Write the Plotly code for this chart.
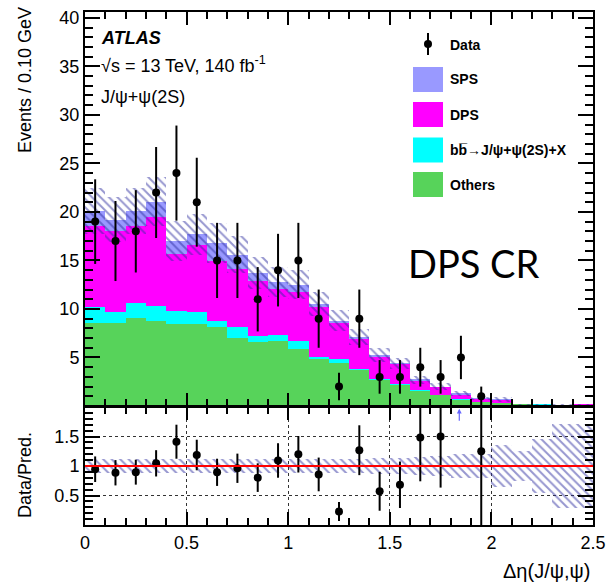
import numpy as np
import plotly.graph_objects as go

# ---------------- data ----------------
bin_lo = [round(0.1 * i, 2) for i in range(25)]
bin_width = 0.1
data = [19, 17, 18, 22, 24, 21, 15, 15, 11, 14, 15, 9, 2, 9, 3, 3, 4, 3, 5, 1, 0, 0, 0, 0, 0]
others = [8.6, 8.6, 9.1, 8.8, 8.45, 8.4, 8.1, 7.0, 6.55, 6.7, 5.86, 4.93, 4.48, 3.72, 2.76,
          2.17, 1.58, 1.14, 0.69, 0.45, 0.34, 0.2, 0.0, 0.0, 0.0]
bbbar = [1.6, 1.1, 1.5, 1.5, 1.35, 1.3, 0.7, 1.1, 0.7, 0.6, 0.8, 0.17, 0.35, 0.08, 0.04,
         0.1, 0.02, 0.01, 0.01, 0.0, 0.0, 0.0, 0.15, 0.1, 0.0]
dps = [8.4, 8.3, 7.9, 9.2, 5.9, 6.9, 6.1, 6.0, 5.6, 4.77, 5.05, 5.1, 3.72, 3.2, 2.35,
       2.08, 1.05, 0.85, 0.5, 0.33, 0.36, 0.0, 0.0, 0.0, 0.15]
sps = [1.5, 1.2, 1.6, 1.55, 1.3, 1.1, 1.9, 1.5, 0.85, 0.73, 0.8, 0.3, 0.25, 0.1, 0.1,
       0.05, 0.05, 0.0, 0.05, 0.02, 0.02, 0.0, 0.0, 0.0, 0.0]
rel_unc = [0.12, 0.12, 0.12, 0.12, 0.12, 0.12, 0.12, 0.12, 0.12, 0.12, 0.12, 0.12, 0.12,
           0.12, 0.13, 0.13, 0.15, 0.17, 0.2, 0.2, 0.36, 0.25, 0.45, 0.72, 0.72]

x_ticks = [0, 0.5, 1, 1.5, 2, 2.5]
y_ticks_top = [5, 10, 15, 20, 25, 30, 35, 40]
y_ticks_ratio = [0.5, 1, 1.5]

# ---------------- derived ----------------
xc = np.array(bin_lo) + bin_width / 2
o = np.array(others); b = np.array(bbbar); d = np.array(dps); s = np.array(sps)
total = o + b + d + s
unc = np.array(rel_unc)
dat = np.array(data, dtype=float)
has = dat > 0
ratio = np.where(has, dat / np.where(total > 0, total, 1), np.nan)
rerr = np.where(has, np.sqrt(dat) / np.where(total > 0, total, 1), np.nan)

FONT = "Liberation Sans, Arial, sans-serif"
C_SPS = "#9999ff"; C_DPS = "#ff00ff"; C_BB = "#00ffff"; C_OTH = "#57d35a"
HATCH = "rgb(45,45,160)"

fig = go.Figure()

bases = [np.zeros(25), o, o + b, o + b + d]
for vals, base, col in [(o, bases[0], C_OTH), (b, bases[1], C_BB), (d, bases[2], C_DPS), (s, bases[3], C_SPS)]:
    fig.add_trace(go.Bar(x=xc, y=vals, base=base, width=bin_width, marker=dict(color=col, line=dict(width=0)),
                         xaxis="x", yaxis="y", showlegend=False, hoverinfo="skip"))

hatch_pat = dict(shape="\\", fgcolor=HATCH, bgcolor="rgba(0,0,0,0)", size=6, solidity=0.33, fillmode="overlay")

fig.add_trace(go.Bar(x=xc, y=2 * unc * total, base=total * (1 - unc), width=bin_width,
                     marker=dict(color="rgba(0,0,0,0)", line=dict(width=0), pattern=hatch_pat),
                     xaxis="x", yaxis="y", showlegend=False, hoverinfo="skip"))

fig.add_trace(go.Scatter(x=xc[has], y=dat[has], mode="markers",
                         marker=dict(color="black", size=8),
                         error_y=dict(type="data", array=np.sqrt(dat[has]), color="black", thickness=2, width=0),
                         xaxis="x", yaxis="y", showlegend=False))

fig.add_trace(go.Bar(x=xc, y=2 * unc, base=1 - unc, width=bin_width,
                     marker=dict(color="rgba(0,0,0,0)", line=dict(width=0), pattern=hatch_pat),
                     xaxis="x2", yaxis="y2", showlegend=False, hoverinfo="skip"))

inrange = has & (ratio <= 2)
fig.add_trace(go.Scatter(x=xc[inrange], y=ratio[inrange], mode="markers",
                         marker=dict(color="black", size=8),
                         error_y=dict(type="data", array=rerr[inrange], color="black", thickness=2, width=0),
                         xaxis="x2", yaxis="y2", showlegend=False, cliponaxis=True))

# ---------------- layout ----------------
L, R, T, B = 85, 16, 12, 62
W, H = 609, 587
PH = H - T - B
PW = W - L - R
top_dom = [(525 - 406) / PH, 1.0]
bot_dom = [0.0, (525 - 407) / PH]

def P(px, py):
    return (px - L) / PW, (H - B - py) / PH

axis_common = dict(showline=True, linecolor="black", linewidth=2, mirror="allticks",
                   ticks="inside", tickcolor="black", tickwidth=1.5, zeroline=False, automargin=False,
                   tickfont=dict(family=FONT, size=18, color="black"))

fig.update_layout(
    width=W, height=H, margin=dict(l=L, r=R, t=T, b=B, autoexpand=False),
    paper_bgcolor="white", plot_bgcolor="white", barmode="overlay", bargap=0,
    showlegend=False,
    xaxis=dict(domain=[0, 1], range=[0, 2.5], anchor="y", matches="x2", showticklabels=False,
               tickvals=x_ticks, ticklen=13, showgrid=False,
               minor=dict(ticks="inside", dtick=0.1, tick0=0, ticklen=7, tickcolor="black", showgrid=False),
               **axis_common),
    yaxis=dict(domain=top_dom, range=[0, 40.6], anchor="x", tickvals=y_ticks_top,
               ticktext=[str(v) for v in y_ticks_top], ticklen=15, showgrid=False,
               minor=dict(ticks="inside", dtick=1, tick0=0, ticklen=8, tickcolor="black", showgrid=False),
               **axis_common),
    xaxis2=dict(domain=[0, 1], range=[0, 2.5], anchor="y2", tickvals=x_ticks,
                ticktext=["0", "0.5", "1", "1.5", "2", "2.5"], ticklen=13,
                showgrid=True, gridcolor="#333333", griddash="dot", gridwidth=1,
                minor=dict(ticks="inside", dtick=0.1, tick0=0, ticklen=7, tickcolor="black", showgrid=False),
                ticklabelstandoff=0,
                **axis_common),
    yaxis2=dict(domain=bot_dom, range=[0, 2.0], anchor="x2", tickvals=y_ticks_ratio,
                ticktext=["0.5", "1", "1.5"], ticklen=15,
                showgrid=True, gridcolor="#333333", griddash="dot", gridwidth=1,
                minor=dict(ticks="inside", dtick=0.1, tick0=0, ticklen=8, tickcolor="black", showgrid=False),
                **axis_common),
)

shapes = []
shapes.append(dict(type="line", xref="x2", yref="y2", x0=0, x1=2.5, y0=1, y1=1,
                   line=dict(color="red", width=2)))

leg_items = [("SPS", C_SPS, 79.5), ("DPS", C_DPS, 114.5),
             ("bb\u0305\u2192J/\u03c8+\u03c8(2S)+X", C_BB, 150), ("Others", C_OTH, 184.5)]
ann = []
for name, col, cy in leg_items:
    x0, y0 = P(413, cy + 12.5)
    x1, y1 = P(443, cy - 12.5)
    shapes.append(dict(type="rect", xref="paper", yref="paper", x0=x0, x1=x1, y0=y0, y1=y1,
                       fillcolor=col, line=dict(width=0)))
    tx, ty = P(448, cy)
    ann.append(dict(xref="paper", yref="paper", x=tx, y=ty, text="<b>" + name + "</b>", showarrow=False,
                    xanchor="left", yanchor="middle", font=dict(family=FONT, size=14, color="black")))
lx0, ly0 = P(428, 33)
lx1, ly1 = P(428, 55)
shapes.append(dict(type="line", xref="paper", yref="paper", x0=lx0, x1=lx1, y0=ly0, y1=ly1,
                   line=dict(color="black", width=2)))
cx, cy0 = P(424, 40)
cx1, cy1 = P(432, 48)
shapes.append(dict(type="circle", xref="paper", yref="paper", x0=cx, x1=cx1, y0=cy0, y1=cy1,
                   fillcolor="black", line=dict(width=0)))
tx, ty = P(448, 45)
ann.append(dict(xref="paper", yref="paper", x=tx, y=ty, text="<b>Data</b>", showarrow=False,
                xanchor="left", yanchor="middle", font=dict(family=FONT, size=14, color="black")))

for text, py in [("<b><i>ATLAS</i></b>", 38), ("\u221as = 13 TeV, 140 fb<sup>-1</sup>", 64),
                 ("J/\u03c8+\u03c8(2S)", 97)]:
    ax, ay = P(99, py)
    ann.append(dict(xref="paper", yref="paper", x=ax, y=ay, text=text, showarrow=False,
                    xanchor="left", yanchor="middle", font=dict(family=FONT, size=18, color="black")))

ax, ay = P(473, 263)
ann.append(dict(xref="paper", yref="paper", x=ax, y=ay, text="DPS CR", showarrow=False,
                xanchor="center", yanchor="middle", font=dict(family="Lato, Liberation Sans, sans-serif", size=38, color="black")))

ax, ay = P(25, 5)
ann.append(dict(xref="paper", yref="paper", x=ax, y=ay, text="Events / 0.10 GeV", textangle=-90,
                showarrow=False, xanchor="center", yanchor="top", font=dict(family=FONT, size=18, color="black")))
ax, ay = P(25, 520)
ann.append(dict(xref="paper", yref="paper", x=ax, y=ay, text="Data/Pred.", textangle=-90,
                showarrow=False, xanchor="center", yanchor="bottom", font=dict(family=FONT, size=18, color="black")))
ax, ay = P(592, 571)
ann.append(dict(xref="paper", yref="paper", x=ax, y=ay, text="\u0394\u03b7(J/\u03c8,\u03c8)",
                showarrow=False, xanchor="right", yanchor="middle", font=dict(family=FONT, size=20, color="black")))

for i in range(25):
    if has[i] and ratio[i] > 2:
        ann.append(dict(xref="x2", yref="y2", x=xc[i] - 0.008, y=1.97, ax=xc[i] - 0.008, ay=1.74,
                        axref="x2", ayref="y2", showarrow=True, arrowhead=2, arrowsize=0.8,
                        arrowwidth=1.2, arrowcolor="#6666ff", text=""))

fig.update_layout(shapes=shapes, annotations=ann)
fig.write_html("out.html", config={"displayModeBar": False},
               post_script="document.body.style.margin='0';document.body.style.padding='0';"
                           "document.documentElement.style.overflow='hidden';")
